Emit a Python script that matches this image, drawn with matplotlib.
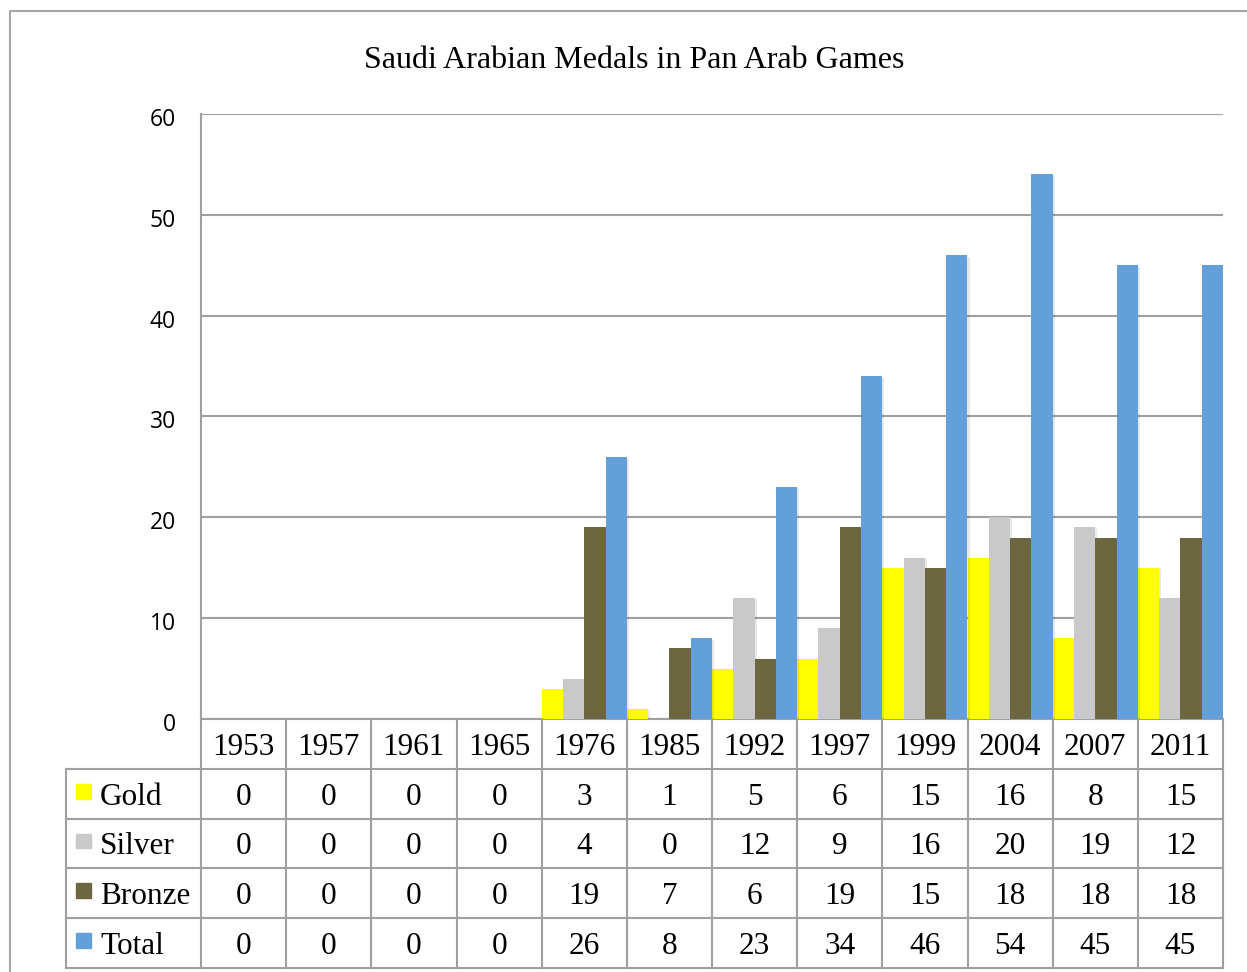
import numpy as np
import matplotlib

matplotlib.use("Agg")
import matplotlib.pyplot as plt
import matplotlib.patheffects as pe
import matplotlib.transforms as mtransforms
from matplotlib.patches import Rectangle

years = ["1953", "1957", "1961", "1965", "1976", "1985",
         "1992", "1997", "1999", "2004", "2007", "2011"]
series = ["Gold", "Silver", "Bronze", "Total"]
gold = [0, 0, 0, 0, 3, 1, 5, 6, 15, 16, 8, 15]
silver = [0, 0, 0, 0, 4, 0, 12, 9, 16, 20, 19, 12]
bronze = [0, 0, 0, 0, 19, 7, 6, 19, 15, 18, 18, 18]
total = [0, 0, 0, 0, 26, 8, 23, 34, 46, 54, 45, 45]
colors = ["#FFFF00", "#C9C9C9", "#6C6741", "#629FDB"]

W, H = 1247, 972
GRID = "#A0A0A0"
SERIF = "Liberation Serif"


def box(left, top, right, bottom):
    return [left / W, 1 - bottom / H, (right - left) / W, (bottom - top) / H]


fig = plt.figure(figsize=(W / 100, H / 100), dpi=100)

# outer chart frame (only top/left visible in the crop)
frame = fig.add_axes([0, 0, 1, 1])
frame.set_xlim(0, W)
frame.set_ylim(H, 0)
frame.axis("off")
frame.plot([10, 10, W + 5], [H + 5, 11, 11], color="#A6A6A6", lw=1.5)

fig.text(634 / W, 1 - 60 / H, "Saudi Arabian Medals in Pan Arab Games",
         ha="center", va="center", family=SERIF, fontsize=23)

# bar area
ax = fig.add_axes(box(201, 114, 1223, 719))
x = np.arange(len(years))
w = 0.25
shadow = [pe.SimplePatchShadow(offset=(1.5, -1), shadow_rgbFace="black", alpha=0.09), pe.Normal()]
for i, (vals, c) in enumerate(zip([gold, silver, bronze, total], colors)):
    ax.bar(x + (i - 1.5) * w, vals, width=w, color=c, linewidth=0,
           path_effects=shadow, zorder=3)

ax.set_xlim(-0.5, len(years) - 0.5)
ax.set_ylim(0, 60)
ax.set_yticks(range(0, 61, 10))
ax.set_xticks([])
ax.yaxis.grid(True, color=GRID, lw=1.5)
ax.set_axisbelow(True)
ax.tick_params(axis="y", length=0, pad=18, labelsize=16.5)
down = mtransforms.ScaledTranslation(0, -3 / 100, fig.dpi_scale_trans)
for lab in ax.get_yticklabels():
    lab.set_family("Open Sans")
    lab.set_transform(lab.get_transform() + down)
for s in ["top", "right"]:
    ax.spines[s].set_visible(False)
for s in ["left", "bottom"]:
    ax.spines[s].set_color(GRID)
    ax.spines[s].set_linewidth(1.5)
ax.patch.set_alpha(0)

# data table under the chart
cw = (1223 - 201) / len(years)
lab_w = (201 - 66) / cw
tab = fig.add_axes(box(66, 719, 1223, 968))
tab.set_xlim(-0.5 - lab_w, len(years) - 0.5)
tab.set_ylim(len(series), -1)
tab.axis("off")

n = len(years)
line_kw = dict(color=GRID, lw=1.5, clip_on=False, solid_capstyle="projecting")
for k in range(n + 1):
    tab.plot([k - 0.5, k - 0.5], [-1, len(series)], **line_kw)
tab.plot([-0.5 - lab_w] * 2, [0, len(series)], **line_kw)
for r in range(len(series) + 1):
    tab.plot([-0.5 - lab_w, n - 0.5], [r, r], **line_kw)

dy = 0.57
for j, yr in enumerate(years):
    tab.text(j, -1 + dy, yr, ha="center", va="center", family=SERIF, fontsize=22.5)

sq = 15 / cw
for r, (name, vals, c) in enumerate(zip(series, [gold, silver, bronze, total], colors)):
    tab.add_patch(Rectangle((-0.5 - lab_w + 10 / cw, r + 0.3), sq, 0.3,
                            color=c, clip_on=False))
    tab.text(-0.5 - lab_w + 34 / cw, r + dy, name, ha="left", va="center",
             family=SERIF, fontsize=22.5)
    for j, v in enumerate(vals):
        tab.text(j, r + dy, str(v), ha="center", va="center",
                 family=SERIF, fontsize=22.5)

fig.savefig("out.png", dpi=100)
